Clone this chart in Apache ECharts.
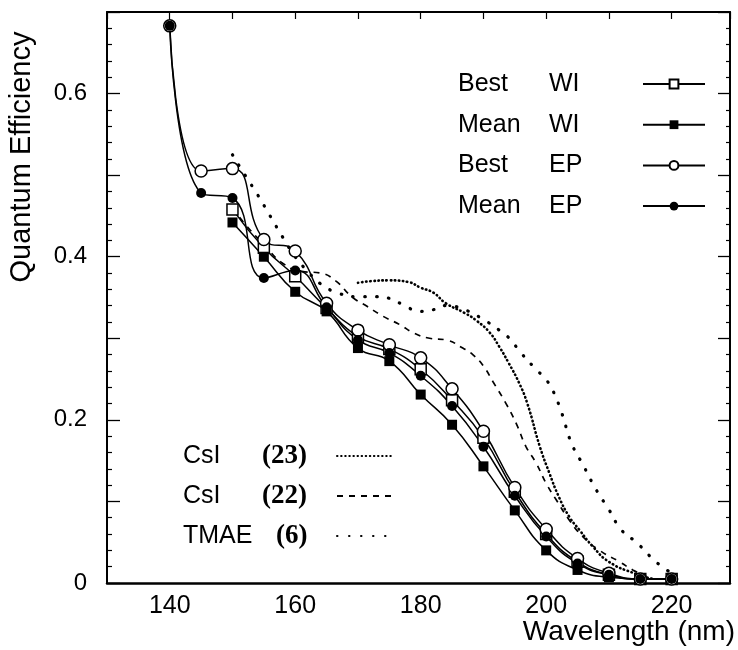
<!DOCTYPE html>
<html><head><meta charset="utf-8">
<script src="https://cdn.jsdelivr.net/npm/echarts@6/dist/echarts.min.js"></script>
<style>html,body{margin:0;padding:0;background:#fff}#c{width:738px;height:650px}</style>
</head><body><div id="c"></div>
<script>
// ---- data ----
const wlEP = [140,145,150,155,160,165,170,175,180,185,190,195,200,205,210,215,220];
const bestEP = [0.683,0.505,0.508,0.421,0.407,0.343,0.310,0.292,0.276,0.238,0.186,0.117,0.066,0.030,0.012,0.005,0.005];
const meanEP = [0.683,0.478,0.472,0.374,0.383,0.338,0.298,0.282,0.254,0.217,0.167,0.107,0.057,0.024,0.010,0.005,0.005];
const wlWI = [150,155,160,165,170,175,180,185,190,195,200,205,210,215,220];
const bestWI = [0.458,0.411,0.376,0.337,0.302,0.287,0.262,0.224,0.178,0.112,0.060,0.026,0.010,0.005,0.005];
const meanWI = [0.442,0.400,0.357,0.333,0.288,0.272,0.231,0.194,0.143,0.089,0.040,0.016,0.007,0.005,0.005];

const csi23X = [170,172,175,178,180,182,184,187,189,191,192.5,194,195.7,197,199,200.5,202,203.7,205.3,207.4,210,214,217];
const csi23Y = [0.368,0.370,0.371,0.369,0.362,0.356,0.343,0.331,0.321,0.307,0.290,0.270,0.245,0.220,0.167,0.135,0.106,0.081,0.065,0.045,0.026,0.012,0.005];
const csi22X = [150,152,155,158,161,164,166.5,169,171.5,174,176.6,179,181.4,184,186.7,188.3,190,191.5,193.6,195.2,196.8,198.4,200,201.6,203.7,205.8,208.5,211.7,213.8,216];
const csi22Y = [0.460,0.440,0.415,0.392,0.382,0.380,0.370,0.351,0.339,0.327,0.317,0.306,0.300,0.298,0.288,0.280,0.266,0.247,0.220,0.196,0.167,0.147,0.122,0.102,0.077,0.057,0.040,0.026,0.016,0.008];
const tmaeX = [150,152,154,156,158,160,162,164,167,170,173,175,177,180,182,184,187,190,192.5,194,196,198,200,201,202.5,204,206,208,210,212,214.5,217.5,220];
const tmaeY = [0.525,0.500,0.476,0.450,0.424,0.400,0.382,0.367,0.355,0.351,0.351,0.349,0.342,0.333,0.335,0.340,0.335,0.323,0.310,0.301,0.282,0.265,0.249,0.237,0.208,0.172,0.143,0.114,0.090,0.065,0.049,0.026,0.012];

const xTickLabels = [140,160,180,200,220];
const yTickLabels = ['0','0.2','0.4','0.6'];
const markerNames = ['Best WI','Mean WI','Best EP','Mean EP'];
const refNames = ['CsI (23)','CsI (22)','TMAE (6)'];

// ---- chart ----
const F = "'Liberation Sans', Arial, Helvetica, sans-serif";
const FS = "'Liberation Serif', 'Times New Roman', serif";
function pairs(xs, ys){ return xs.map((x,i)=>[x, ys[i]]); }
const openStyle = {color:'#fff', borderColor:'#000', borderWidth:1.5};
const fillStyle = {color:'#000', borderColor:'#000', borderWidth:0};
const ln = {color:'#000', width:1.5};
const noSym = {color:'rgba(0,0,0,0)', borderWidth:0};

const chart = echarts.init(document.getElementById('c'), null, {renderer:'canvas'});
const yFmt = v => { const k = Math.round(v*10); if (k===0) return yTickLabels[0]; return (k%2===0 && k<=6) ? yTickLabels[k/2] : ''; };
const xFmt = v => { const r = Math.round(v); return (Math.abs(v-r)<1e-6 && xTickLabels.indexOf(r)>=0) ? String(r) : ''; };

const option = {
  animation:false,
  backgroundColor:'#fff',
  grid:{left:107, top:12, width:623, height:571},
  xAxis:[
    {type:'value', min:130, max:229.3, interval:10, position:'bottom',
     axisLine:{show:true, onZero:false, lineStyle:{color:'#000', width:2.5}},
     axisTick:{show:false}, splitLine:{show:false},
     axisLabel:{formatter:xFmt, color:'#000', fontFamily:F, fontSize:25, margin:11, showMaxLabel:false}},
    {type:'value', min:130, max:229.3, interval:10, position:'top',
     axisLine:{show:true, onZero:false, lineStyle:{color:'#000', width:2}},
     axisTick:{show:true, inside:true, length:7, lineStyle:{color:'#000', width:1.2}},
     axisLabel:{show:false}, splitLine:{show:false}}
  ],
  yAxis:[
    {type:'value', min:0, max:0.7, interval:0.1, position:'left',
     axisLine:{show:true, onZero:false, lineStyle:{color:'#000', width:2}},
     axisTick:{show:true, inside:true, length:13, lineStyle:{color:'#000', width:1.3}},
     minorTick:{show:true, splitNumber:5, length:5, lineStyle:{color:'#000', width:1.2}},
     splitLine:{show:false},
     axisLabel:{formatter:yFmt, color:'#000', fontFamily:F, fontSize:24, margin:20}},
    {type:'value', min:0, max:0.7, interval:0.1, position:'right',
     axisLine:{show:true, onZero:false, lineStyle:{color:'#000', width:2}},
     axisTick:{show:true, inside:true, length:12, lineStyle:{color:'#000', width:1.3}},
     minorTick:{show:true, splitNumber:5, length:4, lineStyle:{color:'#000', width:1.2}},
     splitLine:{show:false}, axisLabel:{show:false}}
  ],
  legend:[
    {data:markerNames, orient:'vertical', left:453, top:64, align:'right',
     itemWidth:62, itemHeight:11, itemGap:10.7, selectedMode:false,
     lineStyle:{width:2},
     formatter: name => { const p = name.split(' '); return '{n|'+p[0]+'}{m|'+p[1]+'}'; },
     textStyle:{color:'#000', fontFamily:F, fontSize:25, lineHeight:30,
       rich:{n:{width:91, align:'left', color:'#000', fontFamily:F, fontSize:25, lineHeight:30},
             m:{width:89, align:'left', color:'#000', fontFamily:F, fontSize:25, lineHeight:30}}}},
    {data:refNames, orient:'vertical', left:178, top:436, align:'right',
     itemWidth:56, itemHeight:10, itemGap:10, selectedMode:false,
     itemStyle:{opacity:0},
     formatter: name => { const i = name.indexOf('('); const a = name.slice(0,i).trim(); const b = name.slice(i);
        const k = a==='TMAE' ? '2' : '1'; return '{a'+k+'|'+a+'}{b'+k+'|'+b+'}'; },
     textStyle:{color:'#000', fontFamily:F, fontSize:25, lineHeight:30,
       rich:{a1:{width:79, align:'left', color:'#000', fontFamily:F, fontSize:25, lineHeight:30},
             b1:{width:70, align:'left', color:'#000', fontFamily:FS, fontWeight:'bold', fontSize:27, lineHeight:30},
             a2:{width:93, align:'left', color:'#000', fontFamily:F, fontSize:25, lineHeight:30},
             b2:{width:56, align:'left', color:'#000', fontFamily:FS, fontWeight:'bold', fontSize:27, lineHeight:30}}}}
  ],
  graphic:[
    {type:'text', x:22, y:157, rotation:Math.PI/2,
     style:{text:'Quantum Efficiency', font:"29px 'Liberation Sans', Arial, sans-serif", fill:'#000', align:'center', verticalAlign:'middle'}},
    {type:'text', x:735, y:632,
     style:{text:'Wavelength (nm)', font:"28px 'Liberation Sans', Arial, sans-serif", fill:'#000', align:'right', verticalAlign:'middle'}}
  ],
  series:[
    {name:refNames[0], type:'line', data:pairs(csi23X, csi23Y), smooth:true, symbol:'circle', showSymbol:false, itemStyle:noSym,
     lineStyle:{color:'#000', width:2.6, type:[0.5,3.6], cap:'round'}, z:1},
    {name:refNames[1], type:'line', data:pairs(csi22X, csi22Y), smooth:true, symbol:'circle', showSymbol:false, itemStyle:noSym,
     lineStyle:{color:'#000', width:1.7, type:[6,6]}, z:1},
    {name:refNames[2], type:'line', data:pairs(tmaeX, tmaeY), smooth:true, symbol:'circle', showSymbol:false, itemStyle:noSym,
     lineStyle:{color:'#000', width:3.2, type:[0.5,11.5], cap:'round'}, z:1},
    {name:markerNames[0], type:'line', data:pairs(wlWI, bestWI), smooth:true, symbol:'rect', symbolSize:11, itemStyle:openStyle, lineStyle:ln, z:3},
    {name:markerNames[1], type:'line', data:pairs(wlWI, meanWI), smooth:true, symbol:'rect', symbolSize:10, itemStyle:fillStyle, lineStyle:ln, z:3},
    {name:markerNames[2], type:'line', data:pairs(wlEP, bestEP), smooth:true, symbol:'circle', symbolSize:12, itemStyle:openStyle, lineStyle:ln, z:3},
    {name:markerNames[3], type:'line', data:pairs(wlEP, meanEP), smooth:true, symbol:'circle', symbolSize:10, itemStyle:fillStyle, lineStyle:ln, z:3}
  ]
};
chart.setOption(option);
</script></body></html>
